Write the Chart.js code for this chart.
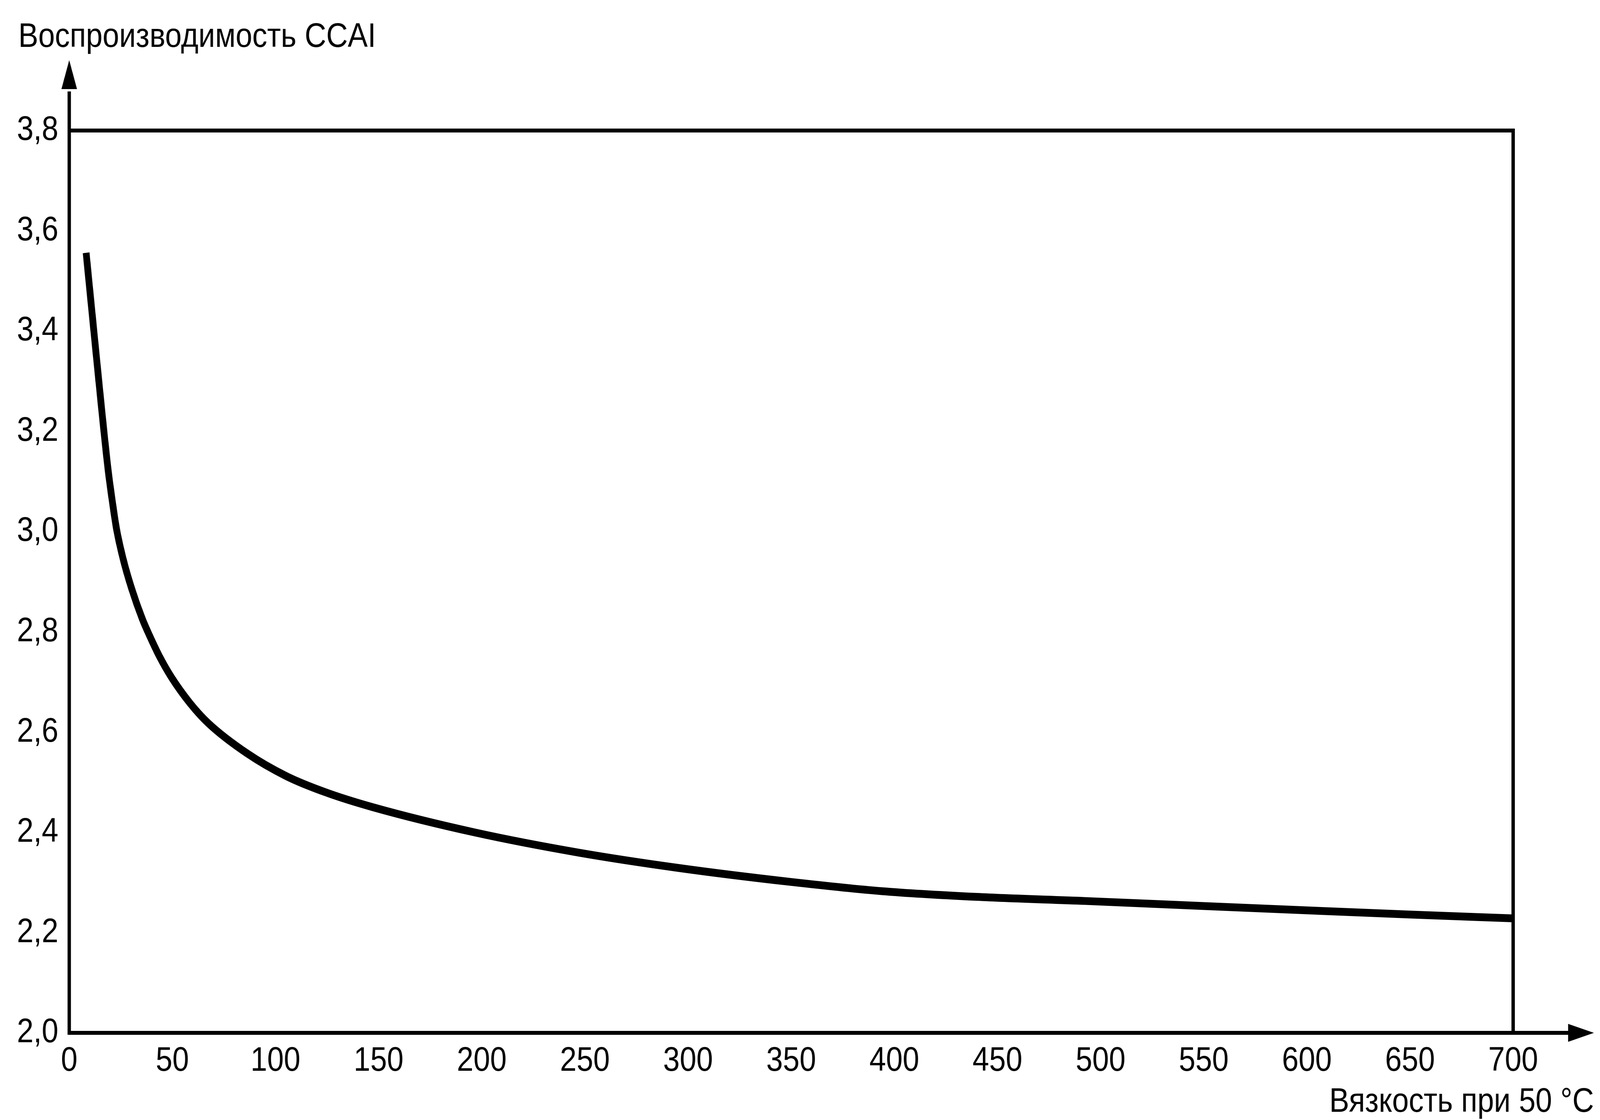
<!DOCTYPE html>
<html>
<head>
<meta charset="utf-8">
<script src="https://cdn.jsdelivr.net/npm/chart.js@4/dist/chart.umd.min.js"></script>
<style>
  html, body { margin: 0; padding: 0; background: #fff; overflow: hidden; }
  canvas { display: block; }
</style>
</head>
<body>
<canvas id="c" width="4716" height="2866" style="width:100vw;height:100vh;"></canvas>
<script>
// ---- data ----
const viscosity = [8.2, 12.9, 18.8, 20.7, 22.9, 26.1, 30.2, 35.5, 39.0, 44.0, 49.6, 58.5, 67.6, 86.4, 105.3, 124.2, 147.3, 196.7, 247, 295.3, 350, 394, 440, 492.7, 550, 607.8, 650, 700];
const reproducibility = [3.556, 3.36, 3.125, 3.066, 3.006, 2.946, 2.887, 2.825, 2.792, 2.749, 2.709, 2.658, 2.617, 2.557, 2.512, 2.48, 2.45, 2.3997, 2.3595, 2.329, 2.301, 2.2826, 2.2712, 2.263, 2.253, 2.2431, 2.236, 2.2285];
const xTickLabels = ['0', '50', '100', '150', '200', '250', '300', '350', '400', '450', '500', '550', '600', '650', '700'];
const yTickLabels = ['2,0', '2,2', '2,4', '2,6', '2,8', '3,0', '3,2', '3,4', '3,6', '3,8'];
const yTitle = 'Воспроизводимость CCAI';
const xTitle = 'Вязкость при 50 °C';

const FONT = '"Liberation Sans", Arial, Helvetica, sans-serif';
const FS = 88;

const decor = {
  id: 'decor',
  afterDraw(chart) {
    const { ctx, scales: { x, y } } = chart;
    const x0 = x.getPixelForValue(x.min), x1 = x.getPixelForValue(x.max);
    const y0 = y.getPixelForValue(y.min), y1 = y.getPixelForValue(y.max);
    ctx.save();
    ctx.fillStyle = '#000';
    ctx.strokeStyle = '#000';
    ctx.lineWidth = 10;
    // y axis extension + arrow
    ctx.beginPath(); ctx.moveTo(x0, y0 + 5); ctx.lineTo(x0, y1 - 100); ctx.stroke();
    ctx.beginPath(); ctx.moveTo(x0, y1 - 180); ctx.lineTo(x0 - 23, y1 - 106); ctx.lineTo(x0 + 23, y1 - 106); ctx.closePath(); ctx.fill();
    // x axis extension + arrow
    ctx.beginPath(); ctx.moveTo(x0 - 5, y0); ctx.lineTo(x1 + 170, y0); ctx.stroke();
    ctx.beginPath(); ctx.moveTo(x1 + 238, y0); ctx.lineTo(x1 + 162, y0 - 23); ctx.lineTo(x1 + 162, y0 + 23); ctx.closePath(); ctx.fill();
    // frame corner
    ctx.fillRect(x1 - 5, y1 - 5, 10, 10);
    // axis titles
    ctx.font = FS + 'px ' + FONT;
    ctx.textBaseline = 'alphabetic';
    ctx.textAlign = 'left';
    ctx.fillText(yTitle, 54, y1 - 214);
    ctx.textAlign = 'right';
    ctx.fillText(xTitle, x1 + 238, y0 + 202);
    ctx.restore();
  }
};

new Chart(document.getElementById('c'), {
  type: 'line',
  data: {
    datasets: [{
      data: viscosity.map((v, i) => ({ x: v, y: reproducibility[i] })),
      borderColor: '#000',
      borderWidth: 20,
      borderCapStyle: 'butt',
      borderJoinStyle: 'round',
      pointRadius: 0,
      cubicInterpolationMode: 'monotone',
      fill: false
    }]
  },
  options: {
    responsive: false,
    devicePixelRatio: 1,
    animation: false,
    layout: { padding: { top: 334, right: 256, bottom: 0, left: 0 } },
    plugins: { legend: { display: false }, tooltip: { enabled: false } },
    scales: {
      x: {
        type: 'linear',
        min: 0, max: 700,
        afterFit: s => { s.height = 223; },
        ticks: {
          stepSize: 50,
          autoSkip: false,
          maxRotation: 0,
          padding: 20,
          color: '#000',
          font: { family: FONT, size: FS },
          callback: (v, i) => xTickLabels[i]
        },
        grid: {
          drawTicks: false,
          lineWidth: 10,
          color: c => (c.tick && c.tick.value === 700) ? '#000' : 'rgba(0,0,0,0)'
        },
        border: { display: true, color: '#000', width: 10 }
      },
      y: {
        min: 2, max: 3.8,
        afterFit: s => { s.width = 204; },
        ticks: {
          stepSize: 0.2,
          padding: 32,
          color: '#000',
          font: { family: FONT, size: FS },
          callback: (v, i) => yTickLabels[i]
        },
        grid: {
          drawTicks: false,
          lineWidth: 10,
          color: c => (c.tick && Math.abs(c.tick.value - 3.8) < 1e-6) ? '#000' : 'rgba(0,0,0,0)'
        },
        border: { display: true, color: '#000', width: 10 }
      }
    }
  },
  plugins: [decor]
});
</script>
</body>
</html>
